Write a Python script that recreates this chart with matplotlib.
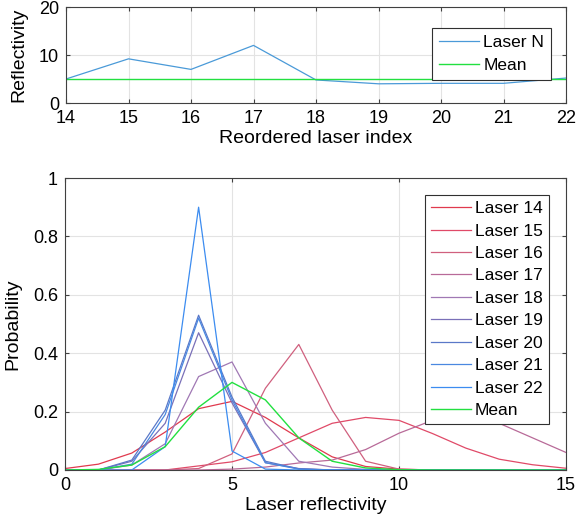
import matplotlib
matplotlib.use("Agg")
import matplotlib.pyplot as plt

plt.rcParams["font.family"] = ["Liberation Sans", "DejaVu Sans"]

# top panel: mean reflectivity per laser
laser_idx = [14, 15, 16, 17, 18, 19, 20, 21, 22]
laser_refl = [5.0, 9.2, 7.0, 12.0, 4.8, 4.0, 4.1, 4.1, 5.2]
mean_refl = 5.1

# bottom panel: reflectivity histograms
refl_bins = list(range(16))
prob = {
    "Laser 14": [0.005, 0.02, 0.058, 0.13, 0.21, 0.235, 0.18, 0.11, 0.045, 0.012, 0.003, 0, 0, 0, 0, 0],
    "Laser 15": [0, 0, 0, 0, 0.014, 0.028, 0.06, 0.11, 0.16, 0.18, 0.17, 0.125, 0.075, 0.037, 0.018, 0.006],
    "Laser 16": [0, 0, 0, 0, 0.005, 0.055, 0.28, 0.43, 0.205, 0.03, 0.003, 0, 0, 0, 0, 0],
    "Laser 17": [0, 0, 0, 0, 0, 0.003, 0.01, 0.024, 0.034, 0.07, 0.126, 0.17, 0.19, 0.16, 0.11, 0.06],
    "Laser 18": [0, 0, 0.017, 0.09, 0.32, 0.37, 0.16, 0.03, 0.01, 0.002, 0, 0, 0, 0, 0, 0],
    "Laser 19": [0, 0, 0.03, 0.16, 0.47, 0.23, 0.025, 0.005, 0, 0, 0, 0, 0, 0, 0, 0],
    "Laser 20": [0, 0, 0.034, 0.205, 0.53, 0.25, 0.03, 0.004, 0, 0, 0, 0, 0, 0, 0, 0],
    "Laser 21": [0, 0, 0.02, 0.19, 0.52, 0.24, 0.025, 0.003, 0, 0, 0, 0, 0, 0, 0, 0],
    "Laser 22": [0, 0, 0, 0.08, 0.9, 0.065, 0.003, 0, 0, 0, 0, 0, 0, 0, 0, 0],
}
prob_mean = [0, 0.002, 0.017, 0.08, 0.215, 0.30, 0.24, 0.11, 0.03, 0.007, 0.001, 0, 0, 0, 0, 0]

colors = ["#e03a4e", "#e04a68", "#d0607e", "#b86a98", "#a078b4", "#7a70b8", "#5a78c8",
          "#4a88e0", "#3c8cf0"]
green = "#22e040"
grid_c = "#e3e3e3"


def style(ax):
    ax.grid(True, color=grid_c, linewidth=0.8)
    ax.set_axisbelow(True)
    ax.tick_params(direction="in", top=True, right=True, length=3, color="#404040",
                   labelsize=13, pad=5)
    for s in ax.spines.values():
        s.set_color("#404040")
        s.set_linewidth(0.8)


fig = plt.figure(figsize=(5.77, 5.31), dpi=100)
ax1 = fig.add_axes([66 / 577, 1 - 103 / 531, 500 / 577, 96 / 531])
ax2 = fig.add_axes([65 / 577, 1 - 470 / 531, 501 / 577, 292 / 531])

ax1.plot(laser_idx, laser_refl, color="#4a9ad8", linewidth=0.9, label="Laser N")
ax1.axhline(mean_refl, color=green, linewidth=1.0, label="Mean")
ax1.set_xlim(14, 22)
ax1.set_ylim(0, 20)
ax1.set_yticks([0, 10, 20])
ax1.set_xticks(laser_idx)
ax1.set_xlabel("Reordered laser index", fontsize=14, labelpad=2)
ax1.set_ylabel("Reflectivity", fontsize=14, labelpad=8)
style(ax1)
leg1 = ax1.legend(loc="upper right", bbox_to_anchor=(0.97, 0.78), fontsize=12.5,
                  fancybox=False, edgecolor="#303030", framealpha=1, borderpad=0.4,
                  borderaxespad=0, handlelength=2.3, handletextpad=0.25,
                  labelspacing=0.45)
leg1.get_frame().set_linewidth(0.8)

for (name, vals), c in zip(prob.items(), colors):
    ax2.plot(refl_bins, vals, color=c, linewidth=0.9, label=name)
ax2.plot(refl_bins, prob_mean, color=green, linewidth=1.0, label="Mean")
ax2.set_xlim(0, 15)
ax2.set_ylim(0, 1)
ax2.set_xticks([0, 5, 10, 15])
ax2.set_yticks([0, 0.2, 0.4, 0.6, 0.8, 1])
ax2.set_yticklabels(["0", "0.2", "0.4", "0.6", "0.8", "1"])
ax2.set_xlabel("Laser reflectivity", fontsize=14, labelpad=2)
ax2.set_ylabel("Probability", fontsize=14, labelpad=8)
style(ax2)
leg2 = ax2.legend(loc="upper right", bbox_to_anchor=(0.966, 0.942), fontsize=12.5,
                  fancybox=False, edgecolor="#303030", framealpha=1, borderpad=0.35,
                  borderaxespad=0, handlelength=2.3, handletextpad=0.25,
                  labelspacing=0.42)
leg2.get_frame().set_linewidth(0.8)

fig.savefig("out.png", dpi=100)
